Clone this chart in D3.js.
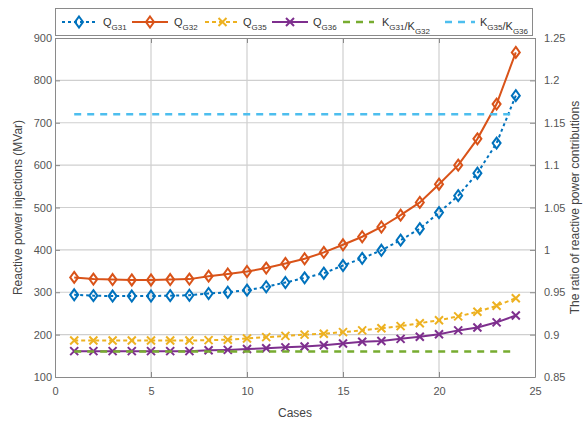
<!DOCTYPE html>
<html>
<head>
<meta charset="utf-8">
<script src="https://cdn.jsdelivr.net/npm/d3@7"></script>
<style>
    body { margin: 0; background: #fff; }
    text { font-family: "Liberation Sans", Arial, sans-serif; }
</style>
</head>
<body>
<div id="plot"></div>
<script>
var cases = [1, 2, 3, 4, 5, 6, 7, 8, 9, 10, 11, 12, 13, 14, 15, 16, 17, 18, 19, 20, 21, 22, 23, 24];
var qG31 = [294, 292, 291, 291, 291, 292, 293, 297, 300, 305, 313, 323, 334, 345, 363, 380, 399, 423, 450, 488, 528, 581, 652, 764];
var qG32 = [335, 331, 330, 329, 329, 330, 331, 338, 343, 349, 357, 368, 379, 394, 412, 431, 454, 482, 512, 555, 600, 662, 744, 866];
var qG35 = [186, 186, 186, 186, 186, 186, 186, 187, 188, 191, 194, 197, 200, 202, 206, 210, 215, 220, 227, 234, 243, 254, 268, 286];
var qG36 = [161, 161, 161, 161, 161, 161, 161, 163, 164, 166, 168, 170, 172, 175, 179, 183, 185, 190, 195, 201, 210, 217, 229, 245];
var k3132 = cases.map(() => 0.88);
var k3536 = cases.map(() => 1.16);

var xTicks = [0, 5, 10, 15, 20, 25];
var yTicks = [100, 200, 300, 400, 500, 600, 700, 800, 900];
var y2Ticks = [0.85, 0.9, 0.95, 1, 1.05, 1.1, 1.15, 1.2, 1.25];

var margin = { top: 38, right: 52, bottom: 47, left: 55 };
var width = 587 - margin.left - margin.right;
var height = 424 - margin.top - margin.bottom;

var axisColor = "#8a8a8a";
var textColor = "#555";

var svg = d3
    .select("#plot")
    .append("svg")
    .attr("width", 587)
    .attr("height", 424)
    .append("g")
    .attr("transform", "translate(" + margin.left + "," + margin.top + ")");

var x = d3.scaleLinear().domain([0, 25]).range([0, width]);
var y = d3.scaleLinear().domain([100, 900]).range([height, 0]);
var y2 = d3.scaleLinear().domain([0.85, 1.25]).range([height, 0]);

// grid
svg.selectAll(".gx")
    .data(xTicks.slice(1, -1))
    .enter()
    .append("line")
    .attr("x1", (d) => x(d))
    .attr("x2", (d) => x(d))
    .attr("y1", 0)
    .attr("y2", height)
    .attr("stroke", "#cfcfcf")
    .attr("stroke-width", 1.2);
svg.selectAll(".gy")
    .data(yTicks.slice(1, -1))
    .enter()
    .append("line")
    .attr("x1", 0)
    .attr("x2", width)
    .attr("y1", (d) => y(d))
    .attr("y2", (d) => y(d))
    .attr("stroke", "#cfcfcf")
    .attr("stroke-width", 1.2);

// axes
var styleAxis = function (g) {
    g.select(".domain").attr("stroke", axisColor);
    g.selectAll(".tick line").attr("stroke", axisColor);
    g.selectAll(".tick text")
        .attr("fill", textColor)
        .style("font-size", "11px")
        .style("font-family", "'Liberation Sans', Arial, sans-serif");
};

svg.append("g")
    .attr("transform", `translate(0, ${height})`)
    .call(d3.axisBottom(x).tickValues(xTicks).tickSizeInner(-5).tickSizeOuter(0).tickPadding(10))
    .call(styleAxis);
svg.append("g")
    .call(d3.axisTop(x).tickValues(xTicks).tickSizeInner(-5).tickSizeOuter(0).tickFormat(""))
    .call(styleAxis);
svg.append("g")
    .call(d3.axisLeft(y).tickValues(yTicks).tickSizeInner(-5).tickSizeOuter(0).tickPadding(3))
    .call(styleAxis);
svg.append("g")
    .attr("transform", `translate(${width}, 0)`)
    .call(d3.axisRight(y2).tickValues(y2Ticks).tickSizeInner(-5).tickSizeOuter(0).tickPadding(9).tickFormat(d3.format("")))
    .call(styleAxis);

// axis titles
svg.append("text")
    .attr("x", width / 2)
    .attr("y", height + 40)
    .attr("text-anchor", "middle")
    .attr("fill", "#444")
    .style("font-size", "12px")
    .text("Cases");
svg.append("text")
    .attr("transform", `translate(${-33}, ${height / 2}) rotate(-90)`)
    .attr("text-anchor", "middle")
    .attr("fill", "#444")
    .style("font-size", "12px")
    .text("Reactive power injections (MVar)");
svg.append("text")
    .attr("transform", `translate(${width + 44}, ${height / 2}) rotate(-90)`)
    .attr("text-anchor", "middle")
    .attr("fill", "#444")
    .style("font-size", "12px")
    .text("The ratio of reactive power contributions");

var series = [
    { name: "G31", values: qG31, scale: y, color: "#0072BD", dash: "3,3", width: 2, marker: "diamond" },
    { name: "G32", values: qG32, scale: y, color: "#D95319", dash: null, width: 2, marker: "diamond" },
    { name: "G35", values: qG35, scale: y, color: "#EDB120", dash: "4,3", width: 2, marker: "x" },
    { name: "G36", values: qG36, scale: y, color: "#7E2F8E", dash: null, width: 2, marker: "x" },
    { name: "K1", values: k3132, scale: y2, color: "#77AC30", dash: "7,6", width: 2.5, marker: null },
    { name: "K2", values: k3536, scale: y2, color: "#4DBEEE", dash: "7,6", width: 2.5, marker: null },
];

var drawMarker = function (g, type, cx, cy, color) {
    if (type == "diamond") {
        g.append("path")
            .attr("d", `M${cx},${cy - 5.5}L${cx + 4},${cy}L${cx},${cy + 5.5}L${cx - 4},${cy}Z`)
            .attr("fill", "none")
            .attr("stroke", color)
            .attr("stroke-width", 2);
    } else if (type == "x") {
        g.append("path")
            .attr("d", `M${cx - 4},${cy - 4}L${cx + 4},${cy + 4}M${cx - 4},${cy + 4}L${cx + 4},${cy - 4}`)
            .attr("fill", "none")
            .attr("stroke", color)
            .attr("stroke-width", 2);
    }
};

for (const s of series) {
    var line = d3
        .line()
        .x((d, i) => x(cases[i]))
        .y((d) => s.scale(d));
    svg.append("path")
        .datum(s.values)
        .attr("d", line)
        .attr("fill", "none")
        .attr("stroke", s.color)
        .attr("stroke-width", s.width)
        .attr("stroke-dasharray", s.dash);
    if (s.marker) {
        var mg = svg.append("g");
        s.values.forEach((v, i) => drawMarker(mg, s.marker, x(cases[i]), s.scale(v), s.color));
    }
}

// legend
var legend = d3.select("svg").append("g");
legend.append("rect")
    .attr("x", 55.5)
    .attr("y", 8.5)
    .attr("width", 477)
    .attr("height", 27)
    .attr("fill", "#fff")
    .attr("stroke", axisColor);

var legendItems = [
    { s: series[0], x0: 62, x1: 96, tx: 103, parts: [["Q", "G31"]] },
    { s: series[1], x0: 132, x1: 168, tx: 174, parts: [["Q", "G32"]] },
    { s: series[2], x0: 205, x1: 240, tx: 243, parts: [["Q", "G35"]] },
    { s: series[3], x0: 272, x1: 308, tx: 313, parts: [["Q", "G36"]] },
    { s: series[4], x0: 343, x1: 374, tx: 382, parts: [["K", "G31"], ["/K", "G32"]] },
    { s: series[5], x0: 445, x1: 475, tx: 480, parts: [["K", "G35"], ["/K", "G36"]] },
];
var ly = 22;
for (const item of legendItems) {
    legend.append("line")
        .attr("x1", item.x0)
        .attr("x2", item.x1)
        .attr("y1", ly)
        .attr("y2", ly)
        .attr("stroke", item.s.color)
        .attr("stroke-width", item.s.width)
        .attr("stroke-dasharray", item.s.dash);
    if (item.s.marker) drawMarker(legend, item.s.marker, (item.x0 + item.x1) / 2, ly, item.s.color);
    var t = legend.append("text")
        .attr("x", item.tx)
        .attr("y", ly + 4)
        .attr("fill", "#333")
        .style("font-size", "11px");
    for (const p of item.parts) {
        t.append("tspan").attr("dy", 0).text(p[0]);
        t.append("tspan").attr("dy", 4).style("font-size", "8px").text(p[1]);
        t.append("tspan").attr("dy", -4).text("");
    }
}
</script>
</body>
</html>
